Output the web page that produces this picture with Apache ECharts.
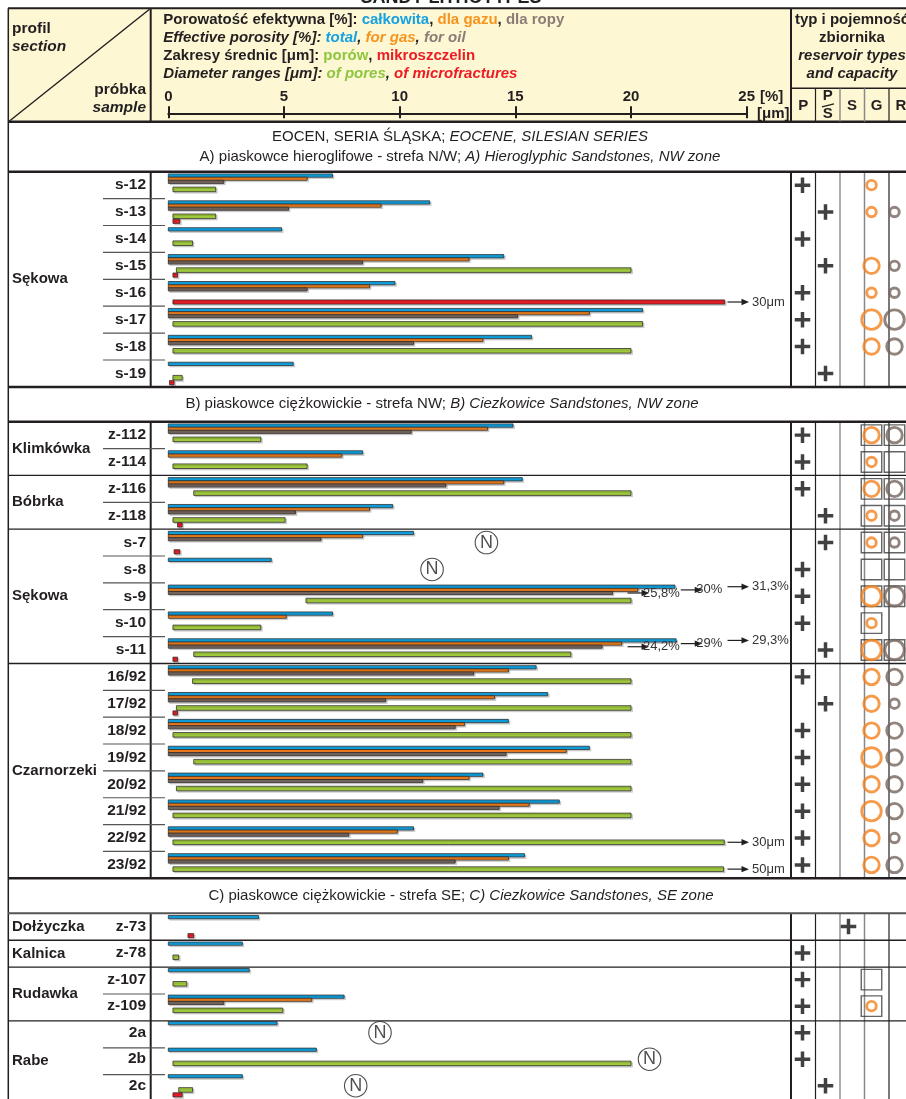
<!DOCTYPE html>
<html>
<head>
<meta charset="utf-8">
<script src="https://cdn.jsdelivr.net/npm/echarts@6/dist/echarts.min.js"></script>
<style>
  html, body { margin: 0; padding: 0; background: #fff; }
  #chart { width: 906px; height: 1099px; }
</style>
</head>
<body>
<div id="chart"></div>
<script>
// ---- samples, grouped by section and profile ----
const samples = ['s-12','s-13','s-14','s-15','s-16','s-17','s-18','s-19',
  'z-112','z-114','z-116','z-118','s-7','s-8','s-9','s-10','s-11',
  '16/92','17/92','18/92','19/92','20/92','21/92','22/92','23/92',
  'z-73','z-78','z-107','z-109','2a','2b','2c'];
const profiles = ['Sękowa','Sękowa','Sękowa','Sękowa','Sękowa','Sękowa','Sękowa','Sękowa',
  'Klimkówka','Klimkówka','Bóbrka','Bóbrka','Sękowa','Sękowa','Sękowa','Sękowa','Sękowa',
  'Czarnorzeki','Czarnorzeki','Czarnorzeki','Czarnorzeki','Czarnorzeki','Czarnorzeki','Czarnorzeki','Czarnorzeki',
  'Dołżyczka','Kalnica','Rudawka','Rudawka','Rabe','Rabe','Rabe'];
const sectionSizes = [8, 17, 7];
const sectionTitlePl = ['A) piaskowce hieroglifowe - strefa N/W; ', 'B) piaskowce ciężkowickie - strefa NW; ', 'C) piaskowce ciężkowickie - strefa SE; '];
const sectionTitleEn = ['A) Hieroglyphic Sandstones, NW zone', 'B) Ciezkowice Sandstones, NW zone', 'C) Ciezkowice Sandstones, SE zone'];

// ---- effective porosity [%] ----
const porTotal = [7.1, 11.3, 4.9, 14.5, 9.8, 20.5, 15.7, 5.4,
  14.9, 8.4, 15.3, 9.7, 10.6, 4.45, 31.3, 7.1, 29.3,
  15.9, 16.4, 14.7, 18.2, 13.6, 16.9, 10.6, 15.4,
  3.9, 3.2, 3.5, 7.6, 4.7, 6.4, 3.2];
const porGas = [6.0, 9.2, null, 13.0, 8.7, 18.2, 13.6, null,
  13.8, 7.5, 14.5, 8.7, 8.4, null, 30, 5.1, 29,
  14.7, 14.1, 12.8, 17.2, 13.0, 15.6, 9.9, 14.7,
  null, null, null, 6.2, null, null, null];
const porOil = [2.4, 5.2, null, 8.4, 6.0, 15.1, 10.6, null,
  10.5, null, 12.0, 5.5, 6.6, null, 25.8, null, 24.2,
  13.2, 9.4, 12.4, 14.6, 11.0, 14.3, 7.8, 12.4,
  null, null, null, 2.4, null, null, null];

// ---- diameter ranges [µm] ----
const poreMin = [0.2, 0.2, 0.2, 0.35, null, 0.2, 0.2, 0.2,
  0.2, 0.2, 1.1, 0.2, null, null, 5.95, 0.2, 1.1,
  1.05, 0.35, 0.2, 1.1, 0.35, 0.2, 0.2, 0.2,
  null, 0.2, 0.2, 0.2, null, 0.2, 0.45];
const poreMax = [2.05, 2.05, 1.05, 20, null, 20.5, 20, 0.6,
  4, 6, 20, 5.05, null, null, 20, 4, 17.4,
  20, 20, 20, 20, 20, 20, 30, 50,
  null, 0.45, 0.8, 4.95, null, 20, 1.05];
const fracMin = [null, 0.2, null, 0.2, 0.2, null, null, 0.05,
  null, null, null, 0.4, 0.25, null, null, null, 0.2,
  null, 0.2, null, null, null, null, null, null,
  0.85, null, null, null, null, null, 0.2];
const fracMax = [null, 0.5, null, 0.4, 30, null, null, 0.25,
  null, null, null, 0.6, 0.5, null, null, null, 0.4,
  null, 0.4, null, null, null, null, null, null,
  1.1, null, null, null, null, null, 0.6];

// bars running past the scale: where they are cut and where the arrow label starts
const cutSample = ['s-16', 's-9', 's-9', 's-9', 's-11', 's-11', 's-11', '22/92', '23/92'];
const cutKind = ['frac', 'total', 'gas', 'oil', 'total', 'gas', 'oil', 'pore', 'pore'];
const cutAt = [24.05, 21.9, 20.3, 19.2, 21.95, 19.6, 18.75, 24.03, 24.0];
const arrowFrom = [24.17, 24.17, 22.15, 19.85, 24.17, 22.15, 19.85, 24.17, 24.17];

// "N" marks
const nSample = ['s-7', 's-8', '2a', '2b', '2c'];
const nAt = [13.75, 11.4, 9.15, 20.8, 8.1];

// ---- reservoir type and capacity ----
const columns = ['P', 'P/S', 'S', 'G', 'R'];
const resType = ['P','P/S','P','P/S','P','P','P','P/S',
  'P','P','P','P/S','P/S','P','P','P','P/S',
  'P','P/S','P','P','P','P','P','P',
  'S','P','P','P','P','P','P/S'];
const gasCap = [1,1,0,2,1,3,2,0, 2,1,2,1,1,0,3,1,3, 2,2,2,3,2,3,2,2, 0,0,0,1,0,0,0];
const oilCap = [0,1,0,1,1,3,2,0, 2,0,2,1,1,0,3,0,3, 2,1,2,2,2,2,1,2, 0,0,0,0,0,0,0];
const boxG = [0,0,0,0,0,0,0,0, 1,1,1,1,1,1,1,1,1, 0,0,0,0,0,0,0,0, 0,0,1,1,0,0,0];
const boxR = [0,0,0,0,0,0,0,0, 1,1,1,1,1,1,1,0,1, 0,0,0,0,0,0,0,0, 0,0,0,0,0,0,0];

// ---- styling and layout ----
const FONT = "'Liberation Sans', Arial, sans-serif";
const INK = '#231f20';
const ROW = 26.9;
const GRID_LEFT = 168.3, GRID_W = 578.4;
const COL_LEFT = 791, COL_W = 122;
const SEC_TOP = [171.7, 421.7, 913.3];
const SEC_ROW = [26.9, 26.86, 26.9];
const TITLE_MID = [[137, 157], [404], [896]];
const TITLE_X = [460, 442, 461];
const KINDS = ['total', 'gas', 'oil', 'pore', 'frac'];
const KIND_COLOR = { total: '#0fa6e6', gas: '#f5821c', oil: '#7a6a62', pore: '#9fc93c', frac: '#ee1c25' };
const KIND_Y = { total: 2.2, gas: 5.5, oil: 8.6, pore: 15.4, frac: 20.6 };
const KIND_H = { total: 3.3, gas: 3.1, oil: 3.1, pore: 4.6, frac: 4.2 };
const CAP_SIZE = [0, 9.5, 15.5, 19.5];

const secStart = sectionSizes.map((n, s) => sectionSizes.slice(0, s).reduce((a, b) => a + b, 0));

function span(kind, i) {
  if (kind === 'total') return porTotal[i] == null ? null : [0, porTotal[i]];
  if (kind === 'gas') return porGas[i] == null ? null : [0, porGas[i]];
  if (kind === 'oil') return porOil[i] == null ? null : [0, porOil[i]];
  if (kind === 'pore') return poreMin[i] == null ? null : [poreMin[i], poreMax[i]];
  return fracMin[i] == null ? null : [fracMin[i], fracMax[i]];
}
function cutIndex(kind, i) {
  for (let j = 0; j < cutSample.length; j++) if (cutSample[j] === samples[i] && cutKind[j] === kind) return j;
  return -1;
}

function barRenderer(kind) {
  return function (params, api) {
    const r = api.value(0);
    const band = api.size([0, 1])[1];
    const k = band / ROW;
    const a = api.coord([api.value(1), r]);
    const b = api.coord([api.value(2), r]);
    const top = a[1] - band / 2;
    return {
      type: 'rect',
      shape: { x: a[0], y: top + KIND_Y[kind] * k, width: Math.max(b[0] - a[0], 1), height: KIND_H[kind] * k },
      style: { fill: KIND_COLOR[kind], stroke: '#2a2526', lineWidth: 0.75,
        shadowColor: 'rgba(0,0,0,0.16)', shadowOffsetX: 1.5, shadowOffsetY: 1.5, shadowBlur: 0 }
    };
  };
}

function fmtValue(kind, v) {
  if (kind === 'pore' || kind === 'frac') return v + 'μm';
  return String(v).replace('.', ',') + '%';
}

function arrowRenderer(params, api) {
  const r = api.value(0);
  const kind = KINDS[api.value(3)];
  const band = api.size([0, 1])[1];
  const k = band / ROW;
  const c = api.coord([api.value(1), r]);
  const y = c[1] - band / 2 + (KIND_Y[kind] + KIND_H[kind] / 2) * k;
  const x0 = c[0], x1 = x0 + 21.5;
  const gap = (kind === 'gas' || kind === 'oil') ? 15.5 : 24.5;
  return {
    type: 'group',
    children: [
      { type: 'line', shape: { x1: x0, y1: y, x2: x1 - 6, y2: y }, style: { stroke: INK, lineWidth: 1.2 } },
      { type: 'polygon', shape: { points: [[x1 - 7.5, y - 3.2], [x1, y], [x1 - 7.5, y + 3.2]] }, style: { fill: INK } },
      { type: 'text', x: x0 + gap, y: y, style: { text: fmtValue(kind, api.value(2)), fill: '#333',
        font: '13px ' + FONT, align: 'left', verticalAlign: 'middle' } }
    ]
  };
}

const grids = [], xAxes = [], yAxes = [], series = [];
const BAR_X = [], COL_X = [];

sectionSizes.forEach((n, s) => {
  const rows = samples.slice(secStart[s], secStart[s] + n);
  // bar grid
  grids.push({ left: GRID_LEFT, width: GRID_W, top: SEC_TOP[s], height: n * SEC_ROW[s], containLabel: false });
  const barGrid = grids.length - 1;
  if (s === 0) {
    BAR_X.push(xAxes.length);
    xAxes.push({ gridIndex: barGrid, type: 'value', min: 0, max: 25, interval: 5, position: 'top',
      offset: SEC_TOP[0] - 113.3, z: 5,
      axisLine: { show: true, lineStyle: { color: INK, width: 2 } },
      axisTick: { show: true, length: 7, lineStyle: { color: INK, width: 2 } },
      axisLabel: { show: true, margin: 9, color: INK, fontFamily: FONT, fontWeight: 'bold', fontSize: 15 },
      splitLine: { show: false } });
    xAxes.push({ gridIndex: barGrid, type: 'value', min: 0, max: 25, interval: 5, position: 'top',
      offset: SEC_TOP[0] - 113.3, z: 5,
      axisLine: { show: false }, axisLabel: { show: false }, splitLine: { show: false },
      axisTick: { show: true, inside: true, length: 5, lineStyle: { color: INK, width: 2 } } });
  } else {
    BAR_X.push(xAxes.length);
    xAxes.push({ gridIndex: barGrid, type: 'value', min: 0, max: 25, interval: 5, show: false });
  }
  yAxes.push({ gridIndex: barGrid, type: 'category', data: rows, inverse: true,
    axisLine: { show: false }, axisTick: { show: false }, splitLine: { show: false },
    axisLabel: { margin: 22.3, color: INK, fontFamily: FONT, fontWeight: 'bold', fontSize: 15.5 } });
  const barY = yAxes.length - 1;

  KINDS.forEach(kind => {
    const data = [];
    for (let r = 0; r < n; r++) {
      const i = secStart[s] + r;
      const sp = span(kind, i);
      if (!sp) continue;
      const j = cutIndex(kind, i);
      data.push([r, sp[0], j >= 0 ? cutAt[j] : sp[1]]);
    }
    series.push({ type: 'custom', xAxisIndex: BAR_X[s], yAxisIndex: barY, encode: { y: 0, x: [1, 2] },
      renderItem: barRenderer(kind), data: data, clip: false, z: 3, silent: true });
  });

  // arrow labels for cut bars
  const arrows = [];
  cutSample.forEach((name, j) => {
    const i = samples.indexOf(name);
    if (i < secStart[s] || i >= secStart[s] + n) return;
    arrows.push([i - secStart[s], arrowFrom[j], span(cutKind[j], i)[1], KINDS.indexOf(cutKind[j])]);
  });
  if (arrows.length) series.push({ type: 'custom', xAxisIndex: BAR_X[s], yAxisIndex: barY,
    encode: { y: 0, x: 1 }, renderItem: arrowRenderer, data: arrows, clip: false, z: 4, silent: true });

  // N marks
  const nData = [];
  nSample.forEach((name, j) => {
    const i = samples.indexOf(name);
    if (i >= secStart[s] && i < secStart[s] + n) nData.push([nAt[j], i - secStart[s]]);
  });
  if (nData.length) series.push({ type: 'scatter', xAxisIndex: BAR_X[s], yAxisIndex: barY, data: nData,
    symbol: 'circle', symbolSize: 22.5, z: 4, silent: true,
    itemStyle: { color: '#fff', borderColor: INK, borderWidth: 1.1 },
    label: { show: true, position: 'inside', formatter: 'N', color: INK, fontFamily: FONT, fontSize: 18 } });

  // reservoir columns grid
  grids.push({ left: COL_LEFT, width: COL_W, top: SEC_TOP[s], height: n * SEC_ROW[s], containLabel: false });
  const colGrid = grids.length - 1;
  COL_X.push(xAxes.length);
  xAxes.push({ gridIndex: colGrid, type: 'category', data: columns, show: false });
  yAxes.push({ gridIndex: colGrid, type: 'category', data: rows, inverse: true, show: false });
  const colY = yAxes.length - 1;

  const plus = [], boxes = [], gas = [], oil = [];
  for (let r = 0; r < n; r++) {
    const i = secStart[s] + r;
    plus.push([resType[i], r]);
    if (boxG[i]) boxes.push(['G', r]);
    if (boxR[i]) boxes.push(['R', r]);
    if (gasCap[i]) gas.push({ value: ['G', r], symbolSize: CAP_SIZE[gasCap[i]] });
    if (oilCap[i]) oil.push({ value: ['R', r], symbolSize: CAP_SIZE[oilCap[i]] });
  }
  series.push({ type: 'scatter', xAxisIndex: COL_X[s], yAxisIndex: colY, data: plus, silent: true, z: 3,
    symbol: 'path://M0,6.2H16V9.8H0ZM6.2,0H9.8V16H6.2Z', symbolSize: 15.5, itemStyle: { color: '#111' } });
  series.push({ type: 'scatter', xAxisIndex: COL_X[s], yAxisIndex: colY, data: boxes, silent: true, z: 3,
    symbol: 'rect', symbolSize: 20.5,
    itemStyle: { color: 'rgba(255,255,255,0)', borderColor: '#3d3d3d', borderWidth: 1.4 } });
  series.push({ type: 'scatter', xAxisIndex: COL_X[s], yAxisIndex: colY, data: gas, silent: true, z: 4,
    symbol: 'circle', itemStyle: { color: 'rgba(255,255,255,0)', borderColor: '#f4821f', borderWidth: 2.9 } });
  series.push({ type: 'scatter', xAxisIndex: COL_X[s], yAxisIndex: colY, data: oil, silent: true, z: 4,
    symbol: 'circle', itemStyle: { color: 'rgba(255,255,255,0)', borderColor: '#76655e', borderWidth: 2.9 } });
});

// ---- table frame, header and labels ----
const g = [];
function line(x1, y1, x2, y2, color, w, z) {
  g.push({ type: 'line', z: z || 1, silent: true, shape: { x1, y1, x2, y2 }, style: { stroke: color, lineWidth: w } });
}
function text(x, y, str, opts) {
  g.push({ type: 'text', z: 6, silent: true, x, y, style: Object.assign({ text: str, fill: INK,
    font: 'bold 15px ' + FONT, align: 'left', verticalAlign: 'middle' }, opts || {}) });
}

// header
g.push({ type: 'rect', z: 0, silent: true, shape: { x: 8.3, y: 8.3, width: 910, height: 113.4 }, style: { fill: '#fdf7d4' } });
text(451, -1.5, 'SANDY LITHOTYPES', { font: 'bold 18px ' + FONT, align: 'center' });
line(8, 8.3, 906, 8.3, INK, 2);
line(8, 121.7, 906, 121.7, INK, 2.5);
line(8.3, 8.3, 8.3, 1099, INK, 1.5);
line(9.5, 121, 149.5, 9.3, INK, 1.4);
line(150.7, 8.3, 150.7, 121.7, INK, 2);
line(791, 8.3, 791, 121.7, INK, 2);
line(791, 88.3, 906, 88.3, INK, 1.5);
[[815.5, INK, 1.2], [840, '#777', 1.2], [864.5, '#888', 1.5], [889, INK, 1.2]].forEach(v => line(v[0], 88.3, v[0], 121.7, v[1], v[2]));

text(12, 28.5, 'profil', { font: 'bold 15.5px ' + FONT });
text(12, 46.5, 'section', { font: 'italic bold 15.5px ' + FONT });
text(146, 90, 'próbka', { align: 'right', font: 'bold 15.5px ' + FONT });
text(146, 108, 'sample', { align: 'right', font: 'italic bold 15.5px ' + FONT });

const rich = {
  k: { fill: INK, fontFamily: FONT, fontWeight: 'bold', fontSize: 15 },
  ki: { fill: INK, fontFamily: FONT, fontWeight: 'bold', fontStyle: 'italic', fontSize: 15 },
  b: { fill: '#17a2e0', fontFamily: FONT, fontWeight: 'bold', fontSize: 15 },
  bi: { fill: '#17a2e0', fontFamily: FONT, fontWeight: 'bold', fontStyle: 'italic', fontSize: 15 },
  o: { fill: '#f7941d', fontFamily: FONT, fontWeight: 'bold', fontSize: 15 },
  oi: { fill: '#f7941d', fontFamily: FONT, fontWeight: 'bold', fontStyle: 'italic', fontSize: 15 },
  r: { fill: '#8b7d76', fontFamily: FONT, fontWeight: 'bold', fontSize: 15 },
  ri: { fill: '#8b7d76', fontFamily: FONT, fontWeight: 'bold', fontStyle: 'italic', fontSize: 15 },
  g: { fill: '#8dc63f', fontFamily: FONT, fontWeight: 'bold', fontSize: 15 },
  gi: { fill: '#8dc63f', fontFamily: FONT, fontWeight: 'bold', fontStyle: 'italic', fontSize: 15 },
  m: { fill: '#ed1c24', fontFamily: FONT, fontWeight: 'bold', fontSize: 15 },
  mi: { fill: '#ed1c24', fontFamily: FONT, fontWeight: 'bold', fontStyle: 'italic', fontSize: 15 }
};
text(163.3, 20, '{k|Porowatość efektywna [%]: }{b|całkowita}{k|, }{o|dla gazu}{k|, }{r|dla ropy}', { rich });
text(163.3, 38, '{ki|Effective porosity [%]: }{bi|total}{ki|, }{oi|for gas}{ki|, }{ri|for oil}', { rich });
text(163.3, 56, '{k|Zakresy średnic [μm]: }{g|porów}{k|, }{m|mikroszczelin}', { rich });
text(163.3, 73.5, '{ki|Diameter ranges [μm]: }{gi|of pores}{ki|, }{mi|of microfractures}', { rich });
text(760, 96.5, '[%]');
text(757, 113.5, '[μm]');

text(852, 20, 'typ i pojemność', { align: 'center' });
text(852, 38, 'zbiornika', { align: 'center' });
text(852, 56, 'reservoir types', { align: 'center', font: 'italic bold 15px ' + FONT });
text(852, 74, 'and capacity', { align: 'center', font: 'italic bold 15px ' + FONT });
text(803.2, 105.5, 'P', { align: 'center' });
text(827.7, 96.3, 'P', { align: 'center' });
text(827.7, 114.3, 'S', { align: 'center' });
line(822, 106.8, 834, 103.8, INK, 1.3, 6);
text(852, 105.5, 'S', { align: 'center' });
text(876.5, 105.5, 'G', { align: 'center' });
text(901, 105.5, 'R', { align: 'center' });

// section titles
const titleFont = '15px ' + FONT;
const titleRich = {
  n: { fill: INK, fontFamily: FONT, fontSize: 15 },
  i: { fill: INK, fontFamily: FONT, fontSize: 15, fontStyle: 'italic' }
};
text(TITLE_X[0], TITLE_MID[0][0], '{n|EOCEN, SERIA ŚLĄSKA; }{i|EOCENE, SILESIAN SERIES}', { align: 'center', rich: titleRich, font: titleFont });
sectionSizes.forEach((n, s) => {
  const y = TITLE_MID[s][TITLE_MID[s].length - 1];
  text(TITLE_X[s], y, '{n|' + sectionTitlePl[s] + '}{i|' + sectionTitleEn[s] + '}', { align: 'center', rich: titleRich, font: titleFont });
});

// row frame of each section
sectionSizes.forEach((n, s) => {
  const top = SEC_TOP[s], h = SEC_ROW[s], bottom = top + n * h;
  [[150.7, INK, 2], [791, INK, 2], [815.5, INK, 1.2], [840, '#777', 1.2], [864.5, '#888', 1.5], [889, INK, 1.2]]
    .forEach(v => line(v[0], top, v[0], bottom, v[1], v[2]));
  line(8, top, 906, top, s === 2 ? '#555' : INK, s === 2 ? 2 : 2.5);
  line(8, bottom, 906, bottom, INK, 2.5);
  let groupStart = 0;
  for (let r = 1; r <= n; r++) {
    const i = secStart[s] + r;
    const boundary = r === n || profiles[i] !== profiles[i - 1];
    if (r < n) {
      if (boundary) line(8, top + r * h, 906, top + r * h, INK, 1.4);
      else line(103, top + r * h, 165, top + r * h, '#555', 1.2);
    }
    if (boundary) {
      const mid = top + (groupStart + r) / 2 * h;
      text(12, mid, profiles[secStart[s] + groupStart]);
      groupStart = r;
    }
  }
});

const chart = echarts.init(document.getElementById('chart'), null, { renderer: 'canvas' });
chart.setOption({
  animation: false,
  backgroundColor: '#fff',
  textStyle: { fontFamily: FONT },
  grid: grids,
  xAxis: xAxes,
  yAxis: yAxes,
  series: series,
  graphic: { elements: g }
});
</script>
</body>
</html>
